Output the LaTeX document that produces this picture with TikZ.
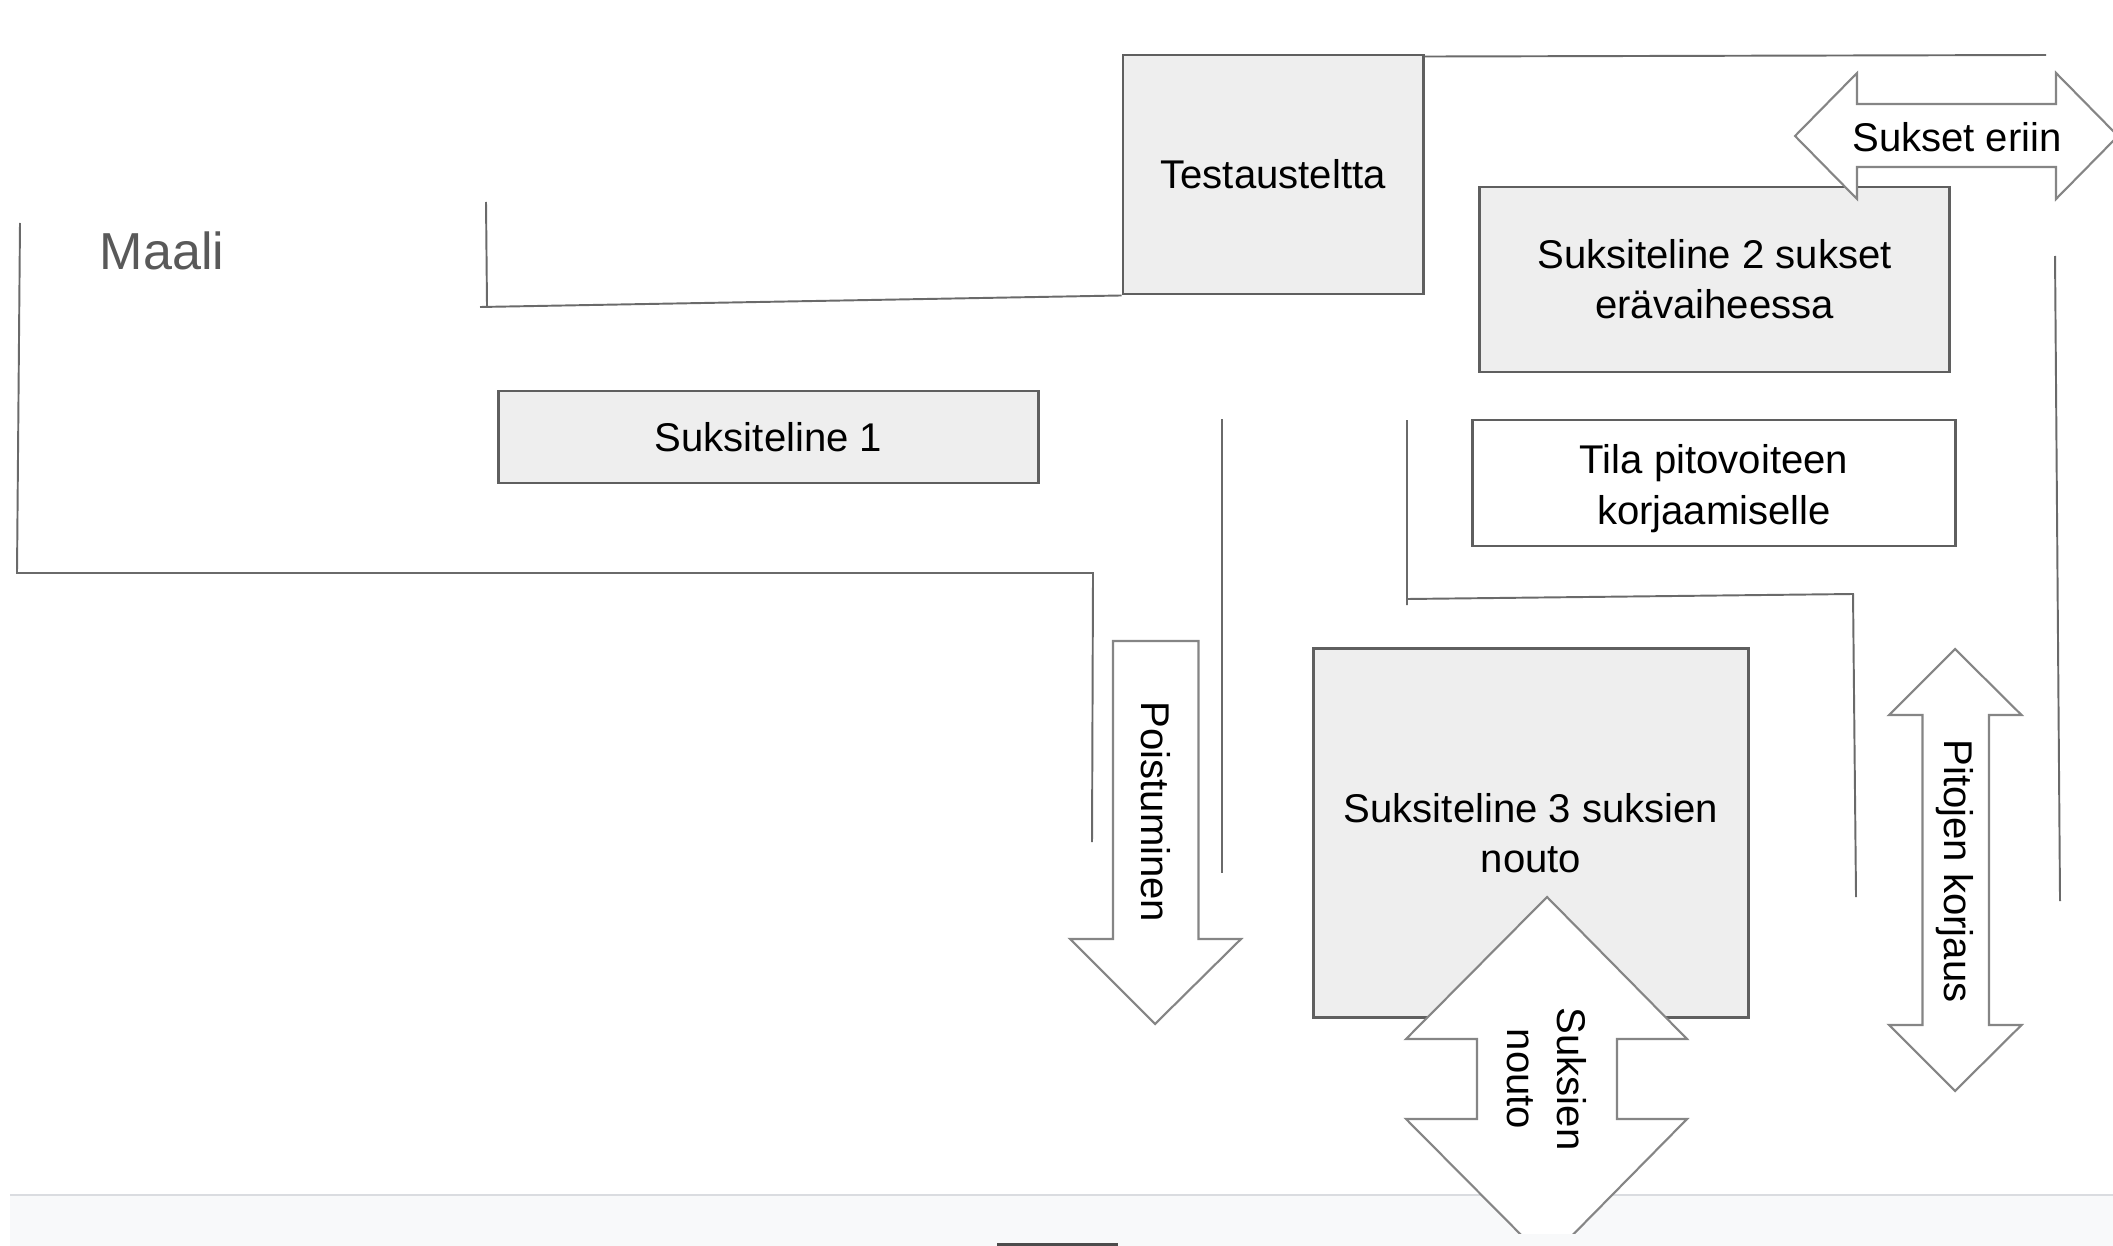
\documentclass[tikz,border=0pt]{standalone}
\usepackage{fontspec}
\setmainfont{Liberation Sans}
\definecolor{boxedge}{HTML}{5F5F5F}
\definecolor{boxfill}{HTML}{EEEEEE}
\definecolor{walledge}{HTML}{6A6A6A}
\definecolor{arrowedge}{HTML}{858585}
\definecolor{maaligray}{HTML}{595959}
\definecolor{stripfill}{HTML}{F8F9FA}
\definecolor{stripline}{HTML}{DADCE0}

\begin{document}
\begin{tikzpicture}[x=0.01cm,y=-0.01cm,
		every node/.style={font=\fontsize{11.4}{14.3}\selectfont, align=center, inner sep=0pt},
		box/.style={draw=boxedge, fill=boxfill, line width=0.8pt},
		wall/.style={draw=walledge, line width=0.55pt},
		bigarrow/.style={draw=arrowedge, fill=white, line width=0.6pt, line join=miter}]
			\useasboundingbox (0,0) rectangle (2113,1246);
			\fill [stripfill] (10,1195) rectangle (2113,1246);
			\draw [stripline, line width=0.7pt] (10,1195) -- (2113,1195);
			\fill [black!70] (997,1243) rectangle (1118,1246);
			\node [box, minimum width=3cm, minimum height=2.39cm] (testi) at (1273,174.5) {Testausteltta};
			\node [box, minimum width=4.69cm, minimum height=1.85cm] (teline2) at (1714.5,279.5) {Suksiteline 2 sukset\\erävaiheessa};
			\node [box, fill=white, minimum width=4.82cm, minimum height=1.26cm] (tila) at (1714,483) {\rule{0pt}{11.4pt}Tila pitovoiteen\\korjaamiselle};
			\node [box, minimum width=5.39cm, minimum height=0.92cm] (teline1) at (768.5,437) {Suksiteline 1};
			\node [box, minimum width=4.34cm, minimum height=3.68cm] (teline3) at (1531,833) {Suksiteline 3 suksien\\nouto};
			\node [anchor=base, text=maaligray, font=\fontsize{14.8}{17}\selectfont] (maali) at (162,270) {Maali};
			\draw [wall] ([yshift=-0.03cm]testi.north east) -- (2046,55);
			\draw [wall] (486,202) -- (487,306) (480,307) -- (testi.south west);
			\draw [wall] (20,223) -- (17,573) -- (1093,573) -- (1092,842);
			\draw [wall] (1222,419) -- (1222,873);
			\draw [wall] (1407,420) -- (1407,605) (1407,599) -- (1853,594) -- (1856,897);
			\draw [wall] (2055,256) -- (2060,901);
			\draw [bigarrow] (1795,136) -- (1857,73) -- (1857,104) -- (2056,104) -- (2056,73) -- (2118,136) -- (2056,199) -- (2056,167) -- (1857,167) -- (1857,199) -- cycle;
			\node (eriin) at (1957,137) {Sukset eriin};
			\draw [bigarrow] (1113,641) -- (1198.5,641) -- (1198.5,939) -- (1241,939) -- (1155,1024) -- (1070,939) -- (1113,939) -- cycle;
			\node [rotate=-90] (poistuminen) at (1156,812) {Poistuminen};
			\draw [bigarrow] (1955,649) -- (2021.5,715) -- (1989,715) -- (1989,1025) -- (2021.5,1025) -- (1955,1091) -- (1889,1025) -- (1922.5,1025) -- (1922.5,715) -- (1889,715) -- cycle;
			\node [rotate=-90] (korjaus) at (1955,871) {Pitojen korjaus};
			\begin{scope}
				\clip (0,0) rectangle (2113,1233);
				\draw [bigarrow] (1547,897) -- (1687,1039) -- (1617,1039) -- (1617,1119) -- (1687,1119) -- (1547,1261) -- (1406,1119) -- (1477,1119) -- (1477,1039) -- (1406,1039) -- cycle;
			\end{scope}
			\node [rotate=-90] (nouto) at (1547,1079) {Suksien\\nouto};
		\end{tikzpicture}
\end{document}
